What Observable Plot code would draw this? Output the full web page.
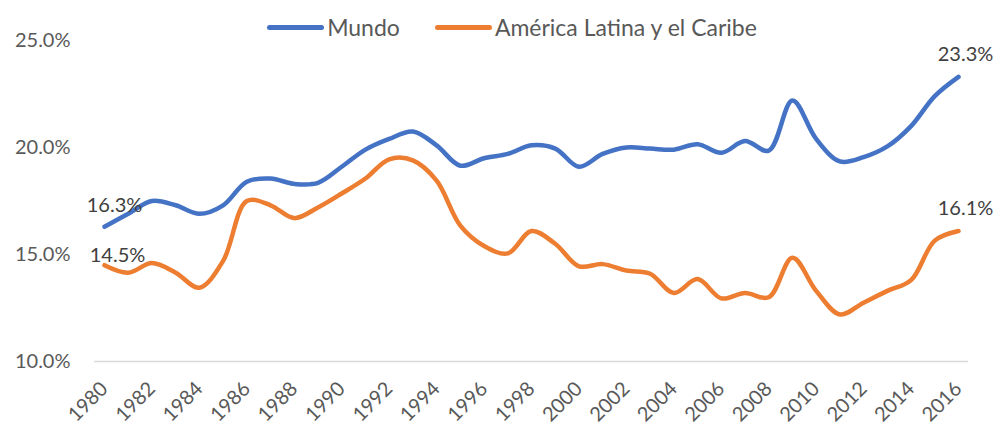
<!DOCTYPE html>
<html>
<head>
<meta charset="utf-8">
<script src="https://cdn.jsdelivr.net/npm/d3@7"></script>
<script src="https://cdn.jsdelivr.net/npm/@observablehq/plot@0.6"></script>
<style>
  html, body { margin: 0; padding: 0; background: #fff; }
  #wrap { position: relative; width: 1000px; height: 426px; font-family: Lato, sans-serif; }
  #legend { position: absolute; top: 13px; left: 12px; width: 1000px; display: flex; justify-content: center; gap: 35px; font-size: 23px; color: #595959; }
  .item { display: flex; align-items: center; }
  .sw { width: 57px; height: 5px; border-radius: 3px; margin-right: 3px; }
</style>
</head>
<body>
<div id="wrap">
  <div id="legend"></div>
</div>
<script>
const years = d3.range(1980, 2017);
const mundo = [16.3, 16.9, 17.5, 17.3, 16.9, 17.3, 18.4, 18.55, 18.3, 18.35, 19.1, 19.9, 20.4, 20.75, 20.1, 19.15, 19.5, 19.7, 20.1, 19.95, 19.1, 19.7, 20.0, 19.95, 19.9, 20.15, 19.75, 20.3, 19.85, 22.2, 20.4, 19.35, 19.55, 20.05, 21.0, 22.4, 23.3];
const alc = [14.5, 14.15, 14.6, 14.15, 13.45, 14.7, 17.5, 17.3, 16.7, 17.2, 17.85, 18.55, 19.45, 19.4, 18.45, 16.35, 15.4, 15.05, 16.1, 15.5, 14.45, 14.55, 14.25, 14.1, 13.2, 13.85, 12.95, 13.2, 13.0, 14.85, 13.3, 12.2, 12.75, 13.3, 13.8, 15.65, 16.1];
const seriesNames = ["Mundo", "América Latina y el Caribe"];
const seriesColors = ["#4472C4", "#ED7D31"];
const yTicks = [10, 15, 20, 25];
const xTicks = d3.range(1980, 2017, 2);

const rows = [];
years.forEach((y, i) => {
  rows.push({year: y, value: mundo[i], series: seriesNames[0]});
  rows.push({year: y, value: alc[i], series: seriesNames[1]});
});
const first = years[0], last = years[years.length - 1];
const pick = (yr, s) => rows.filter(d => d.year === yr && d.series === s);
const fmt = v => v.toFixed(1) + "%";
const lab = (data, dx, dy) => Plot.text(data, {x: "year", y: "value", text: d => fmt(d.value), fill: "#404040", fontSize: 20, dx, dy});

const chart = Plot.plot({
  width: 1000,
  height: 426,
  marginTop: 40,
  marginBottom: 65,
  marginLeft: 104,
  marginRight: 42,
  style: {fontFamily: "Lato, sans-serif", fontSize: "20px", color: "#595959", background: "transparent"},
  x: {domain: [1980, 2016], ticks: xTicks, tickFormat: d => String(d), tickRotate: -45, tickSize: 0, tickPadding: 24, label: null},
  y: {domain: [10, 25], ticks: yTicks, tickFormat: fmt, tickSize: 0, tickPadding: 34, label: null},
  color: {domain: seriesNames, range: seriesColors},
  marks: [
    Plot.ruleY([10], {stroke: "#d9d9d9", strokeWidth: 1.5, insetLeft: -10, insetRight: -10}),
    Plot.line(rows, {x: "year", y: "value", z: "series", stroke: "series", strokeWidth: 4.5, curve: "catmull-rom", strokeLinecap: "round"}),
    lab(pick(first, seriesNames[0]), 10, -21),
    lab(pick(first, seriesNames[1]), 13, -10),
    lab(pick(last, seriesNames[0]), 7, -22),
    lab(pick(last, seriesNames[1]), 7, -22)
  ]
});
document.getElementById("wrap").appendChild(chart);
const leg = document.getElementById("legend");
seriesNames.forEach((n, i) => {
  const it = document.createElement("div");
  it.className = "item";
  it.innerHTML = `<span class="sw" style="background:${seriesColors[i]}"></span><span>${n}</span>`;
  leg.appendChild(it);
});
</script>
</body>
</html>
